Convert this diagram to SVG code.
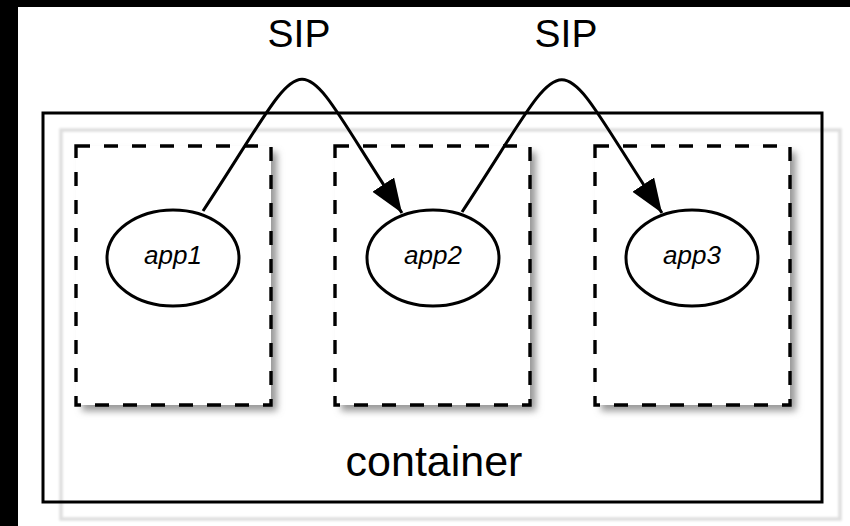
<svg xmlns="http://www.w3.org/2000/svg" width="850" height="526" viewBox="0 0 850 526">
  <style>
    .sip { font-family: "Liberation Sans", Arial, sans-serif; font-size: 39px; fill: #000; text-anchor: middle; }
    .label { font-family: "Liberation Sans", Arial, sans-serif; font-size: 43px; fill: #000; text-anchor: middle; }
    .app { font-family: "Liberation Sans", Arial, sans-serif; font-size: 26px; font-style: italic; fill: #000; text-anchor: middle; }
    .box { fill: #fff; stroke: #000; stroke-width: 3.4; stroke-dasharray: 14 14; }
    .shadow { fill: #999; filter: url(#soft); }
    .app-shape { fill: #fff; stroke: #000; stroke-width: 3; }
    .link { fill: none; stroke: #000; stroke-width: 3; }
  </style>
  <defs>
    <filter id="soft" x="-20%" y="-20%" width="140%" height="140%">
      <feGaussianBlur stdDeviation="3.5"/>
    </filter>
    <filter id="haze" x="-5%" y="-5%" width="110%" height="110%">
      <feGaussianBlur stdDeviation="0.8"/>
    </filter>
    <marker id="arrow" markerUnits="userSpaceOnUse" markerWidth="36" markerHeight="28" refX="34" refY="13" orient="auto">
      <path d="M0,0 L34,13 L0,26 Z" fill="#000"/>
    </marker>
  </defs>

  <!-- page -->
  <rect x="0" y="0" width="850" height="526" fill="#000"/>
  <rect x="18" y="7" width="832" height="519" fill="#fff"/>

  <!-- container -->
  <g id="container">
    <rect x="61" y="130" width="779" height="389" fill="none" stroke="#dedede" stroke-width="3.5" filter="url(#haze)"/>
    <rect x="43" y="113" width="779" height="389" fill="none" stroke="#000" stroke-width="3"/>
    <text class="label" x="434" y="476">container</text>
  </g>

  <!-- app boxes -->
  <g id="box1">
    <rect class="shadow" x="82" y="152" width="195" height="259"/>
    <rect class="box" x="76" y="146" width="195" height="259"/>
  </g>
  <g id="box2">
    <rect class="shadow" x="341" y="152" width="195" height="259"/>
    <rect class="box" x="335" y="146" width="195" height="259"/>
  </g>
  <g id="box3">
    <rect class="shadow" x="601" y="152" width="195" height="259"/>
    <rect class="box" x="595" y="146" width="195" height="259"/>
  </g>

  <!-- applications -->
  <g id="app1">
    <ellipse class="app-shape" cx="173" cy="258" rx="66" ry="48"/>
    <text class="app" x="173" y="264">app1</text>
  </g>
  <g id="app2">
    <ellipse class="app-shape" cx="433" cy="258" rx="66" ry="48"/>
    <text class="app" x="433" y="264">app2</text>
  </g>
  <g id="app3">
    <ellipse class="app-shape" cx="692" cy="258" rx="66" ry="48"/>
    <text class="app" x="692" y="264">app3</text>
  </g>

  <!-- SIP messages -->
  <g id="connectors">
    <path class="link" d="M203,211 C320,34 285,36 402,213" marker-end="url(#arrow)"/>
    <path class="link" d="M462,212 C579,35 545,36 662,213" marker-end="url(#arrow)"/>
    <text class="sip" x="299" y="47">SIP</text>
    <text class="sip" x="566" y="47">SIP</text>
  </g>
</svg>
